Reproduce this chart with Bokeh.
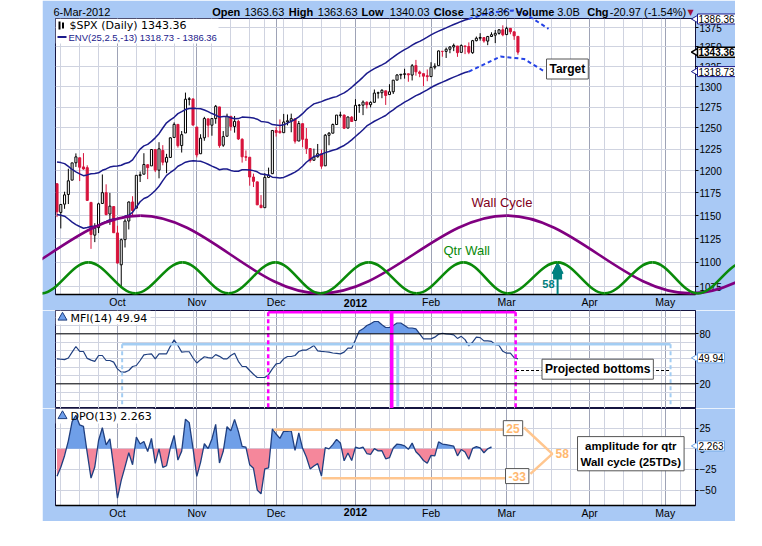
import math
import numpy as np
from bokeh.plotting import figure
from bokeh.models import (Range1d, FixedTicker, Grid, Label, Span, Arrow, NormalHead,
                          BasicTickFormatter, Spacer, BoxAnnotation)
from bokeh.layouts import column, row
from bokeh.embed import file_html
from bokeh.resources import INLINE

# ------------------------------------------------------------------ data
SYMBOL = "$SPX"
LAST_DATE = "6-Mar-2012"
LAST_VOLUME = "3.0B"

# closes before the first drawn bar (24-Aug .. 8-Sep-2011), used for the indicators
PRE_CLOSE = [1177.60, 1159.27, 1176.80, 1210.08, 1212.92, 1218.89, 1204.42, 1173.97,
             1165.24, 1198.62, 1185.90]
FIRST_IDX = -16   # trading-day index of 9-Sep-2011 (3-Oct-2011 = 0)

OPEN = [1185.37, 1153.50, 1162.59, 1173.32, 1189.44, 1209.21, 1214.99, 1204.50, 1203.63, 1164.55,
        1128.82, 1136.91, 1163.32, 1175.39, 1151.74, 1159.93,
        1131.21, 1097.42, 1124.03, 1144.11, 1165.03, 1158.15, 1194.60, 1196.19, 1206.96, 1205.65,
        1224.47, 1200.75, 1223.46, 1209.92, 1215.39, 1238.72, 1254.19, 1229.17, 1243.97, 1284.39, 1284.96,
        1251.00, 1219.62, 1238.25, 1260.82, 1253.21, 1261.12, 1275.18, 1229.59, 1240.12, 1263.85,
        1251.70, 1257.81, 1236.56, 1216.19, 1215.62, 1192.98, 1187.48, 1161.41, 1158.67, 1192.56, 1196.72,
        1246.91, 1246.03, 1244.33, 1257.19, 1258.14, 1260.87, 1234.48, 1255.05, 1236.83, 1225.73,
        1212.12, 1216.09, 1219.74, 1205.72, 1241.25, 1243.72, 1254.00, 1265.02, 1265.38, 1249.75, 1262.82,
        1258.86, 1277.03, 1277.30, 1280.93, 1277.83, 1280.77, 1292.02, 1292.48, 1294.82, 1290.22,
        1293.65, 1308.07, 1314.49, 1315.29, 1315.96, 1314.40, 1326.28, 1318.25, 1316.16, 1313.53,
        1312.45, 1324.24, 1326.21, 1344.32, 1344.33, 1347.04, 1349.97, 1351.21, 1343.06, 1351.30,
        1350.52, 1342.61, 1358.06, 1361.22, 1362.11, 1357.53, 1363.46, 1365.20, 1367.56, 1372.20,
        1365.90, 1374.09, 1369.59, 1363.63]
HIGH = [1185.37, 1162.52, 1176.41, 1202.38, 1209.11, 1220.06, 1214.99, 1220.39, 1206.30, 1164.55,
        1141.72, 1164.19, 1195.86, 1184.71, 1175.09, 1159.93,
        1138.99, 1125.12, 1146.07, 1165.55, 1171.40, 1194.91, 1199.24, 1220.25, 1207.46, 1224.61,
        1224.47, 1233.10, 1229.64, 1219.53, 1239.03, 1256.55, 1254.19, 1246.28, 1292.66, 1287.08, 1284.96,
        1251.00, 1242.48, 1263.21, 1260.82, 1261.70, 1277.55, 1275.18, 1246.22, 1266.98, 1263.85,
        1264.25, 1259.61, 1237.73, 1223.51, 1215.62, 1196.81, 1187.48, 1172.66, 1197.35, 1203.67, 1247.11,
        1251.09, 1260.08, 1266.73, 1266.03, 1267.06, 1260.87, 1258.25, 1255.05, 1249.86, 1225.73,
        1225.60, 1231.04, 1224.57, 1242.82, 1245.09, 1255.22, 1265.42, 1269.37, 1265.85, 1263.54, 1264.12,
        1284.62, 1278.73, 1283.05, 1281.84, 1281.99, 1296.46, 1293.80, 1296.82, 1294.82, 1303.00,
        1308.11, 1315.49, 1315.38, 1322.28, 1315.96, 1328.30, 1333.47, 1320.06, 1316.16, 1321.41,
        1330.52, 1329.19, 1345.34, 1344.36, 1349.24, 1351.00, 1354.32, 1351.21, 1353.35, 1351.30,
        1355.87, 1359.02, 1363.40, 1367.76, 1362.70, 1364.24, 1368.92, 1371.94, 1373.09, 1378.04,
        1376.17, 1374.53, 1369.59, 1363.63]
LOW = [1148.37, 1136.07, 1157.44, 1162.73, 1189.44, 1204.46, 1188.36, 1201.19, 1166.21, 1114.22,
       1121.36, 1131.07, 1163.32, 1150.40, 1139.93, 1131.34,
       1098.92, 1074.77, 1115.68, 1134.95, 1150.26, 1158.15, 1187.30, 1196.19, 1190.58, 1205.65,
       1198.55, 1191.48, 1206.31, 1197.34, 1215.39, 1238.72, 1226.79, 1221.06, 1243.97, 1277.01, 1253.16,
       1215.42, 1219.62, 1234.81, 1238.92, 1240.75, 1254.99, 1226.64, 1227.70, 1240.12, 1246.68,
       1244.34, 1235.67, 1209.43, 1211.36, 1183.16, 1181.65, 1161.79, 1158.66, 1158.67, 1191.80, 1196.72,
       1239.73, 1243.35, 1244.33, 1253.03, 1244.80, 1231.47, 1234.48, 1227.25, 1219.43, 1209.47,
       1212.12, 1215.20, 1202.37, 1205.72, 1229.51, 1243.72, 1254.00, 1262.30, 1248.64, 1249.75, 1257.46,
       1258.86, 1268.10, 1265.26, 1273.34, 1274.55, 1280.77, 1285.41, 1285.77, 1277.58, 1290.22,
       1290.99, 1308.07, 1309.17, 1309.89, 1306.06, 1307.65, 1313.60, 1311.72, 1300.49, 1306.69,
       1312.45, 1321.57, 1326.21, 1337.52, 1335.92, 1341.95, 1344.63, 1337.35, 1343.06, 1340.83,
       1340.80, 1341.22, 1357.24, 1358.11, 1355.53, 1352.28, 1363.46, 1354.92, 1365.97, 1363.81,
       1365.90, 1366.42, 1359.13, 1340.03]
CLOSE = [1154.23, 1162.27, 1172.87, 1188.68, 1209.11, 1216.01, 1204.09, 1202.09, 1166.76, 1129.56,
         1136.43, 1162.95, 1175.38, 1151.06, 1160.40, 1131.42,
         1099.23, 1123.95, 1144.03, 1164.97, 1155.46, 1194.89, 1195.54, 1207.25, 1203.66, 1224.58,
         1200.86, 1225.38, 1209.88, 1215.39, 1238.25, 1254.19, 1229.05, 1242.00, 1284.59, 1285.09, 1253.30,
         1218.28, 1237.90, 1261.15, 1253.23, 1261.12, 1275.92, 1229.10, 1239.69, 1263.85, 1251.78,
         1257.81, 1236.91, 1216.13, 1215.65, 1192.98, 1188.04, 1161.79, 1158.67, 1192.55, 1195.19, 1246.96,
         1244.58, 1244.28, 1257.08, 1258.47, 1261.01, 1234.35, 1255.19, 1236.47, 1225.73, 1211.82,
         1215.75, 1219.66, 1205.35, 1241.30, 1243.72, 1254.00, 1265.33, 1265.43, 1249.64, 1263.02, 1257.60,
         1277.06, 1277.30, 1281.06, 1277.81, 1280.70, 1292.08, 1292.48, 1295.50, 1289.09, 1293.67,
         1308.04, 1314.50, 1315.38, 1316.00, 1314.65, 1326.06, 1318.43, 1316.33, 1313.01, 1312.41,
         1324.09, 1325.54, 1344.90, 1344.33, 1347.05, 1349.96, 1351.95, 1342.64, 1351.77, 1350.50,
         1343.23, 1358.04, 1361.23, 1362.21, 1357.66, 1363.46, 1365.74, 1367.59, 1372.18, 1365.68,
         1374.09, 1369.63, 1364.33, 1343.36]

# Money Flow Index (14), one value per bar
MFI14 = [50, 49.5, 49, 51, 58, 64.8, 59, 58.8, 50.5, 48.5,
         47, 54, 54, 48, 48, 46, 38, 34, 34, 36,
         40.8, 42, 48, 54.8, 55.5, 56, 50, 56, 56, 56,
         65, 72.8, 66, 58, 58.5, 58.5, 51, 45, 49, 52.5,
         51.5, 50.8, 55, 53, 50, 50, 54, 56.8, 47, 40.8,
         40.8, 36, 31.5, 27.6, 27.6, 27.6, 31, 38, 44, 44.7,
         50, 52.8, 52.8, 54, 58.8, 60.5, 60.5, 63, 66, 59.6,
         59, 58.5, 58, 57, 56.5, 56, 58, 62.8, 62.8, 73,
         83.5, 86, 90, 92, 94.8, 94.8, 91, 87.6, 87.6, 90,
         93, 93, 90, 87, 87, 86, 80, 74, 74, 74,
         76, 79.5, 80.7, 80, 79.5, 78.8, 74.5, 77, 73, 65.6,
         70, 76, 75.5, 71.6, 71.6, 71, 67, 66, 59, 56.8,
         56.8, 51.5, 49.94]

MONTH_IDX = [0, 21, 42, 63, 83, 103, 125, 145]
MONTH_LABELS = ["Oct", "Nov", "Dec", "2012", "Feb", "Mar", "Apr", "May"]
WEEK_IDX = [-15, -10, -5, 0, 5, 10, 15, 20, 25, 30, 35, 39, 44, 49, 54, 59, 63, 67, 72, 76,
            81, 86, 91, 96, 100, 105, 110, 115, 120, 125, 129, 134, 139, 144, 149]
PRICE_TICKS = [1075, 1100, 1125, 1150, 1175, 1200, 1225, 1250, 1275, 1300, 1325, 1350, 1375]
MFI_TICKS = [20, 80]
MFI_GRID = [0, 10, 20, 30, 40, 50, 60, 70, 80, 90, 100]
DPO_TICKS = [25, 0, -25, -50]

# hand-drawn cycle annotations: extremes (trading-day index, price)
QTR_EXT_X = [-20.2, -7.7, 4.7, 17.2, 29.4, 41.8, 53.7, 66.5, 79.2, 91.6, 103.3, 116.5,
             128.9, 141.6, 153.6, 166.0]
QTR_EXT_Y = [1068, 1100, 1068, 1100, 1068, 1100, 1068, 1100, 1068, 1100, 1068, 1100,
             1068, 1100, 1068, 1100]
WALL_EXT_X = [-42.4, 6.1, 53.7, 103.0, 151.7, 200.3]
WALL_EXT_Y = [1068, 1150, 1068, 1150, 1068, 1150]
QTR_SIGNAL_X = 116.5
QTR_SIGNAL_Y = 1100
QTR_LEN = 58

# projected envelope (dashed)
UPPER_PROJ_X = [93, 98.8, 104.8, 108, 114.1]
UPPER_PROJ_Y = [1386.4, 1395, 1397.5, 1393, 1373.5]
LOWER_PROJ_X = [93, 101.4, 107.6, 112.9]
LOWER_PROJ_Y = [1318.7, 1337.7, 1334.7, 1319.2]

# MFI annotations
MFI_BOTTOM_X = [1.24, 146.4]
MFI_BOTTOM_LEVEL = 67.5
MFI_BLUE_BAR_X = 74.2
MFI_PINK_X = [39.9, 105.4]
MFI_PINK_LEVEL = 105.9
MFI_PINK_BAR_X = 72.6
MFI_PROJ_X = [105.5, 146.4]
MFI_PROJ_LEVEL = 36

# DPO amplitude annotation
AMP_HI = 25
AMP_LO = -33
AMP_HI_LINE_X = [41.4, 104.6]
AMP_HI_LINE_Y = 23.0
AMP_LO_LINE_X = [54.2, 105.0]
AMP_LO_LINE_Y = -35.6
CHEVRON_X = [107.6, 115.1, 109.3]
CHEVRON_Y = [25.8, -6.1, -30.4]

# ------------------------------------------------------------------ layout constants
LEFT = 42                        # left edge of the blue chart block (page px)
WIDTH = 693
FL, FR = 55, 695                 # frame left/right (page px)
FT1, FB1 = 18, 294               # price panel
FT2, FB2 = 309, 407              # MFI panel
FT3, FB3 = 407, 504              # DPO panel
BOTTOM = 517
X0, X1 = -16.4, 153.0
Y0M, Y1M = 1066.9, 1387.0
MFI_LO, MFI_HI = -9.6, 108.0
DPO_LO, DPO_HI = -68.6, 48.8

BG = "#A9C9F5"
GRID_LIGHT = "#CFD3E0"
GRID_MONTH = "#9EA3B6"
NAVY = "#1B1B8C"
OUTLINE = "#141440"
RED = "#D7143C"
TEAL = "#008080"
ORANGE = "#FFC68F"
MAGENTA = "#FF00FF"
LBLUE = "#A3CDF3"
TAGBLUE = "#6FA6E6"
IND_FILL = "#6E9EEA"
IND_LINE = "#1F3F80"


def xd(px):
    return X0 + (px - FL) * (X1 - X0) / (FR - FL)


def y_main(py):
    a, b = math.log(Y0M), math.log(Y1M)
    return math.exp(a + (FB1 - py) / (FB1 - FT1) * (b - a))


def y_mfi(py):
    return MFI_LO + (FB2 - py) / (FB2 - FT2) * (MFI_HI - MFI_LO)


def y_dpo(py):
    return DPO_LO + (FB3 - py) / (FB3 - FT3) * (DPO_HI - DPO_LO)


def lab(p, x, y, text, size="11px", color="black", bold=False, align="left",
        baseline="middle", font="Liberation Sans", bg=None, border=None, pad=0,
        shadow=False, lh=1.2, xo=0, yo=0, bw=1):
    kw = dict(x=x, y=y, text=text, text_font=font, text_font_size=size,
              text_font_style="bold" if bold else "normal", text_align=align,
              text_baseline=baseline, text_line_height=lh, padding=pad)
    if shadow:
        p.add_layout(Label(**kw, x_offset=xo + 2, y_offset=yo - 2, text_alpha=0.0,
                           background_fill_color="#8C8C8C"))
    p.add_layout(Label(**kw, x_offset=xo, y_offset=yo, text_color=color,
                       background_fill_color=bg, border_line_color=border,
                       border_line_width=bw))


def tag(o, yv, text, border, bold=False, bw=1):
    # right-hand value tag with a small pointer on its left side
    o.scatter([xd(695.5)], [yv], marker="triangle", angle=math.pi / 2, size=8,
              fill_color="white", line_color=border, line_width=bw)
    lab(o, xd(697), yv, text, size="10px", bold=bold, bg="white", border=border, pad=1, bw=bw)


xr = Range1d(X0, X1)


def base_fig(fh, yr, ytype, top, bottom, with_xaxis, yticks, ygrid):
    p = figure(frame_width=FR - FL, frame_height=fh, x_range=xr, y_range=yr, y_axis_type=ytype,
               y_axis_location="right", x_axis_location=("below" if with_xaxis else None),
               tools="", toolbar_location=None, output_backend="svg",
               min_border_left=FL - LEFT, min_border_right=LEFT + WIDTH - FR,
               min_border_top=top, min_border_bottom=bottom,
               background_fill_color="white", border_fill_color=BG,
               outline_line_color=OUTLINE, outline_line_width=1)
    p.grid.visible = False
    p.add_layout(Grid(dimension=0, ticker=FixedTicker(ticks=WEEK_IDX), grid_line_color=GRID_LIGHT))
    p.add_layout(Grid(dimension=0, ticker=FixedTicker(ticks=MONTH_IDX), grid_line_color=GRID_MONTH))
    p.add_layout(Grid(dimension=1, ticker=FixedTicker(ticks=ygrid), grid_line_color=GRID_LIGHT))
    ya = p.yaxis[0]
    ya.ticker = FixedTicker(ticks=yticks)
    ya.formatter = BasicTickFormatter(use_scientific=False)
    ya.major_label_text_font = "Liberation Sans"
    ya.major_label_text_font_size = "10px"
    ya.major_label_text_color = "black"
    ya.major_tick_out = 3
    ya.major_tick_in = 0
    ya.minor_tick_out = 0
    ya.minor_tick_in = 0
    ya.major_tick_line_color = "black"
    ya.axis_line_color = OUTLINE
    ya.major_label_standoff = 1
    if with_xaxis:
        xa = p.xaxis[0]
        xa.ticker = FixedTicker(ticks=MONTH_IDX)
        xa.major_label_overrides = {i: ("" if t == "2012" else t)
                                    for i, t in zip(MONTH_IDX, MONTH_LABELS)}
        xa.major_tick_out = 0
        xa.major_tick_in = 0
        xa.minor_tick_out = 0
        xa.minor_tick_in = 0
        xa.axis_line_color = "black"
        xa.axis_line_width = 1.5
        xa.major_label_text_font = "Liberation Sans"
        xa.major_label_text_font_size = "10.5px"
        xa.major_label_text_color = "black"
        xa.major_label_standoff = 1
    return p


def overlay(h, yr, ytype):
    # transparent layer over a whole panel (frame + borders), same data mapping,
    # so that annotations may run outside the plotting frame as in the original
    o = figure(frame_width=WIDTH, frame_height=h, x_range=Range1d(xd(LEFT), xd(LEFT + WIDTH)),
               y_range=yr, y_axis_type=ytype, x_axis_location=None, y_axis_location=None,
               tools="", toolbar_location=None, output_backend="svg", min_border=0,
               background_fill_alpha=0, border_fill_alpha=0, outline_line_color=None)
    o.grid.visible = False
    return o


# ------------------------------------------------------------------ indicators
n = len(CLOSE)
idx = list(range(FIRST_IDX, FIRST_IDX + n))
LAST = idx[-1]
C_ALL = PRE_CLOSE + CLOSE
BASE = FIRST_IDX - len(PRE_CLOSE)


def c_at(i):
    return C_ALL[i - BASE]


env_x = list(range(FIRST_IDX, LAST - 13 + 1))
env_mid = [float(np.mean([c_at(j) for j in range(s - 11, s + 14)])) for s in env_x]
env_up = [m * 1.025 for m in env_mid]
env_dn = [m * 0.975 for m in env_mid]

dpo_x = list(range(FIRST_IDX, LAST - 7 + 1))
dpo = [c_at(s) - float(np.mean([c_at(j) for j in range(s - 5, s + 8)])) for s in dpo_x]


def split_at(xs, ys, base):
    ox, oy = [], []
    for i in range(len(xs)):
        if i > 0:
            a, b = ys[i - 1] - base, ys[i] - base
            if a * b < 0:
                t = a / (a - b)
                ox.append(xs[i - 1] + t * (xs[i] - xs[i - 1]))
                oy.append(base)
        ox.append(xs[i])
        oy.append(ys[i])
    return ox, oy


# ------------------------------------------------------------------ price panel
p1 = base_fig(FB1 - FT1, Range1d(Y0M, Y1M), "log", FT1, FT2 - FB1, True,
              PRICE_TICKS, PRICE_TICKS)
o1 = overlay(FT2, Range1d(y_main(FT2), y_main(0)), "log")
p1.add_layout(BoxAnnotation(left=X0, right=xd(218), bottom=y_main(43), top=Y1M,
                            fill_color="white", fill_alpha=1, line_color=None, level="underlay"))

prev = [PRE_CLOSE[-1]] + CLOSE[:-1]
col = [RED if c < pc else "black" for c, pc in zip(CLOSE, prev)]
fil = ["white" if c >= o else cc for o, c, cc in zip(OPEN, CLOSE, col)]
top = [max(o, c) for o, c in zip(OPEN, CLOSE)]
bot = [min(o, c) for o, c in zip(OPEN, CLOSE)]
p1.segment(x0=idx, y0=LOW, x1=idx, y1=HIGH, line_color=col, line_width=1)
p1.vbar(x=idx, width=0.55, top=top, bottom=bot, fill_color=fil, line_color=col, line_width=1)

p1.line(env_x, env_up, line_color=NAVY, line_width=1.5)
p1.line(env_x, env_dn, line_color=NAVY, line_width=1.5)

# teal up arrow at the next quarter-wall top
p1.segment(x0=[QTR_SIGNAL_X], y0=[y_main(279)], x1=[QTR_SIGNAL_X], y1=[y_main(271)],
           line_color=TEAL, line_width=9)
p1.add_layout(Arrow(end=NormalHead(size=11, fill_color=TEAL, line_color=TEAL),
                    x_start=QTR_SIGNAL_X, y_start=Y0M, x_end=QTR_SIGNAL_X, y_end=QTR_SIGNAL_Y,
                    line_color=TEAL, line_width=2))
lab(p1, QTR_SIGNAL_X, y_main(283), str(QTR_LEN), size="11px", color=TEAL, bold=True,
    align="right", xo=-3)

lab(p1, xd(471), y_main(202), "Wall Cycle", size="13px", color="#800020")
lab(p1, xd(443), y_main(250), "Qtr Wall", size="13px", color="#0A8A0A")
lab(p1, xd(546), y_main(68.5), "Target", size="12px", bold=True, bg="white",
    border="#555555", pad=3, shadow=True)

# legend (small symbol icons + texts)
p1.segment(x0=[xd(59), xd(62.5)], y0=[y_main(29), y_main(28)], x1=[xd(59), xd(62.5)],
           y1=[y_main(21), y_main(22)], line_color="black", line_width=2)
lab(p1, xd(69), y_main(25), f"{SYMBOL} (Daily) {CLOSE[-1]:.2f}", size="11px",
    font="DejaVu Sans")
p1.line([xd(57), xd(66)], [y_main(36.5)] * 2, line_color=NAVY, line_width=2)
lab(p1, xd(68), y_main(36.5), f"ENV(25,2.5,-13) {env_dn[-1]:.2f} - {env_up[-1]:.2f}",
    size="9.5px", color=NAVY)


def bez(p, ex, ey, color):
    x0 = np.array(ex[:-1], float)
    x1 = np.array(ex[1:], float)
    y0 = np.array(ey[:-1], float)
    y1 = np.array(ey[1:], float)
    p.bezier(x0=x0, y0=y0, x1=x1, y1=y1, cx0=x0 + 0.3642 * (x1 - x0), cy0=y0,
             cx1=x0 + 0.6358 * (x1 - x0), cy1=y1, line_color=color, line_width=2.6)


# overlay: cycles, projections, header and value tags (allowed to leave the frame)
bez(o1, WALL_EXT_X, WALL_EXT_Y, "#800080")
bez(o1, QTR_EXT_X, QTR_EXT_Y, "#0A8A0A")
o1.line(UPPER_PROJ_X, UPPER_PROJ_Y, line_color="#2442E6", line_width=2, line_dash="4 3")
o1.line(LOWER_PROJ_X, LOWER_PROJ_Y, line_color="#2442E6", line_width=2, line_dash="4 3")

chg = CLOSE[-1] - CLOSE[-2]
pct = chg / CLOSE[-2] * 100
hy = y_main(11.5)
header = [(53, LAST_DATE, False), (211.7, "Open", True), (244, f"{OPEN[-1]:.2f}", False),
          (288.3, "High", True), (317.3, f"{HIGH[-1]:.2f}", False),
          (361, "Low", True), (389.3, f"{LOW[-1]:.2f}", False),
          (433.3, "Close", True), (469.3, f"{CLOSE[-1]:.2f}", False),
          (515, "Volume", True), (556.7, LAST_VOLUME, False),
          (586.7, "Chg", True), (609.3, f"{chg:.2f} ({pct:.2f}%)", False)]
for px, t, b in header:
    lab(o1, xd(px), hy, t, size="11px", bold=b)
lab(o1, xd(687), hy, "\u25bc", size="8px", color="#A0103A", font="DejaVu Sans")

tag(o1, env_up[-1], f"{env_up[-1]:.2f}", NAVY)
tag(o1, CLOSE[-1], f"{CLOSE[-1]:.2f}", "black", bold=True, bw=1.5)
tag(o1, env_dn[-1], f"{env_dn[-1]:.2f}", NAVY)
lab(o1, MONTH_IDX[3], y_main(302), MONTH_LABELS[3], size="10.5px", bold=True, align="center")

# ------------------------------------------------------------------ MFI panel
p2 = base_fig(FB2 - FT2, Range1d(MFI_LO, MFI_HI), "linear", 0, 0, False, MFI_TICKS, MFI_GRID)
o2 = overlay(FB2 - FT2, Range1d(MFI_LO, MFI_HI), "linear")
p2.add_layout(BoxAnnotation(left=X0, right=xd(150), bottom=y_mfi(323), top=MFI_HI,
                            fill_color="white", fill_alpha=1, line_color=None, level="underlay"))
for lv in MFI_TICKS:
    p2.add_layout(Span(location=lv, dimension="width", line_color="black", line_width=1))
fx, fy = split_at(idx, MFI14, 80)
p2.varea(x=fx, y1=[80] * len(fx), y2=[max(v, 80) for v in fy], fill_color=IND_FILL)
p2.line(idx, MFI14, line_color=IND_LINE, line_width=1.2)

p2.line(MFI_BOTTOM_X, [MFI_BOTTOM_LEVEL] * 2, line_color=LBLUE, line_width=2.5)
for bx in MFI_BOTTOM_X:
    p2.line([bx, bx], [MFI_BOTTOM_LEVEL, y_mfi(403)], line_color=LBLUE, line_width=2,
            line_dash="4 3")
p2.line([MFI_BLUE_BAR_X] * 2, [MFI_BOTTOM_LEVEL, y_mfi(405)], line_color=LBLUE, line_width=3)
p2.line(MFI_PINK_X, [MFI_PINK_LEVEL] * 2, line_color=MAGENTA, line_width=2.5)
for bx in MFI_PINK_X:
    p2.line([bx, bx], [MFI_PINK_LEVEL, MFI_LO], line_color=MAGENTA, line_width=2.5,
            line_dash="4 3")
p2.line([MFI_PINK_BAR_X] * 2, [MFI_PINK_LEVEL, MFI_LO], line_color=MAGENTA, line_width=3.5)
p2.line(MFI_PROJ_X, [MFI_PROJ_LEVEL] * 2, line_color="black", line_width=1, line_dash="3 2")
lab(p2, xd(541.5), y_mfi(367.7), "Projected bottoms", size="12px", bold=True, bg="white",
    border="#555555", pad=3, shadow=True)
p2.scatter([xd(62)], [y_mfi(316)], marker="triangle", size=9, fill_color=IND_FILL,
           line_color=IND_LINE, line_width=1)
lab(p2, xd(70), y_mfi(316.5), f"MFI(14) {MFI14[-1]:.2f}", size="11px", font="DejaVu Sans")
tag(o2, MFI14[-1], f"{MFI14[-1]:.2f}", TAGBLUE)

# ------------------------------------------------------------------ DPO panel
p3 = base_fig(FB3 - FT3, Range1d(DPO_LO, DPO_HI), "linear", 0, BOTTOM - FB3, True,
              DPO_TICKS, DPO_TICKS)
o3 = overlay(BOTTOM - FT3, Range1d(y_dpo(BOTTOM), DPO_HI), "linear")
p3.add_layout(BoxAnnotation(left=X0, right=xd(153), bottom=y_dpo(422), top=DPO_HI,
                            fill_color="white", fill_alpha=1, line_color=None, level="underlay"))
dx, dy = split_at(dpo_x, dpo, 0)
p3.varea(x=dx, y1=[0] * len(dx), y2=[max(v, 0) for v in dy], fill_color="#6F9FE8")
p3.varea(x=dx, y1=[0] * len(dx), y2=[min(v, 0) for v in dy], fill_color="#F5879B")
p3.line(dpo_x, dpo, line_color=IND_LINE, line_width=1.3)

p3.line(AMP_HI_LINE_X, [AMP_HI_LINE_Y] * 2, line_color=ORANGE, line_width=2.5)
p3.line(AMP_LO_LINE_X, [AMP_LO_LINE_Y] * 2, line_color=ORANGE, line_width=2.5)
p3.line(CHEVRON_X, CHEVRON_Y, line_color=ORANGE, line_width=2.5)
lab(p3, xd(512.5), AMP_HI, str(AMP_HI), size="12px", color="#FFB870", bold=True,
    align="center", bg="white", border="#555555", pad=3, shadow=True)
lab(p3, xd(516.7), AMP_LO, str(AMP_LO), size="12px", color="#FFB870", bold=True,
    align="center", bg="white", border="#555555", pad=3, shadow=True)
lab(p3, xd(555), y_dpo(452), str(AMP_HI - AMP_LO), size="12px", color="#FFB870", bold=True)
lab(p3, xd(630.3), y_dpo(452.2), "amplitude for qtr\nWall cycle (25TDs)", size="11.5px",
    bold=True, align="center", bg="white", border="#555555", pad=3, shadow=True, lh=1.35)
p3.scatter([xd(62)], [y_dpo(414.5)], marker="triangle", size=9, fill_color=IND_FILL,
           line_color=IND_LINE, line_width=1)
lab(p3, xd(70), y_dpo(415), f"DPO(13) {dpo[-1]:.3f}", size="11px", font="DejaVu Sans")
tag(o3, dpo[-1], f"{dpo[-1]:.3f}", TAGBLUE)
lab(o3, MONTH_IDX[3], y_dpo(511.5), MONTH_LABELS[3], size="10.5px", bold=True, align="center")

charts = column(p1, p2, p3, spacing=0)
layers = column(o1, o2, o3, spacing=0, margin=(0, 0, 0, -WIDTH))
layout = row(Spacer(width=LEFT, height=10), charts, layers, spacing=0)
open("out.html", "w").write(file_html(layout, INLINE))
